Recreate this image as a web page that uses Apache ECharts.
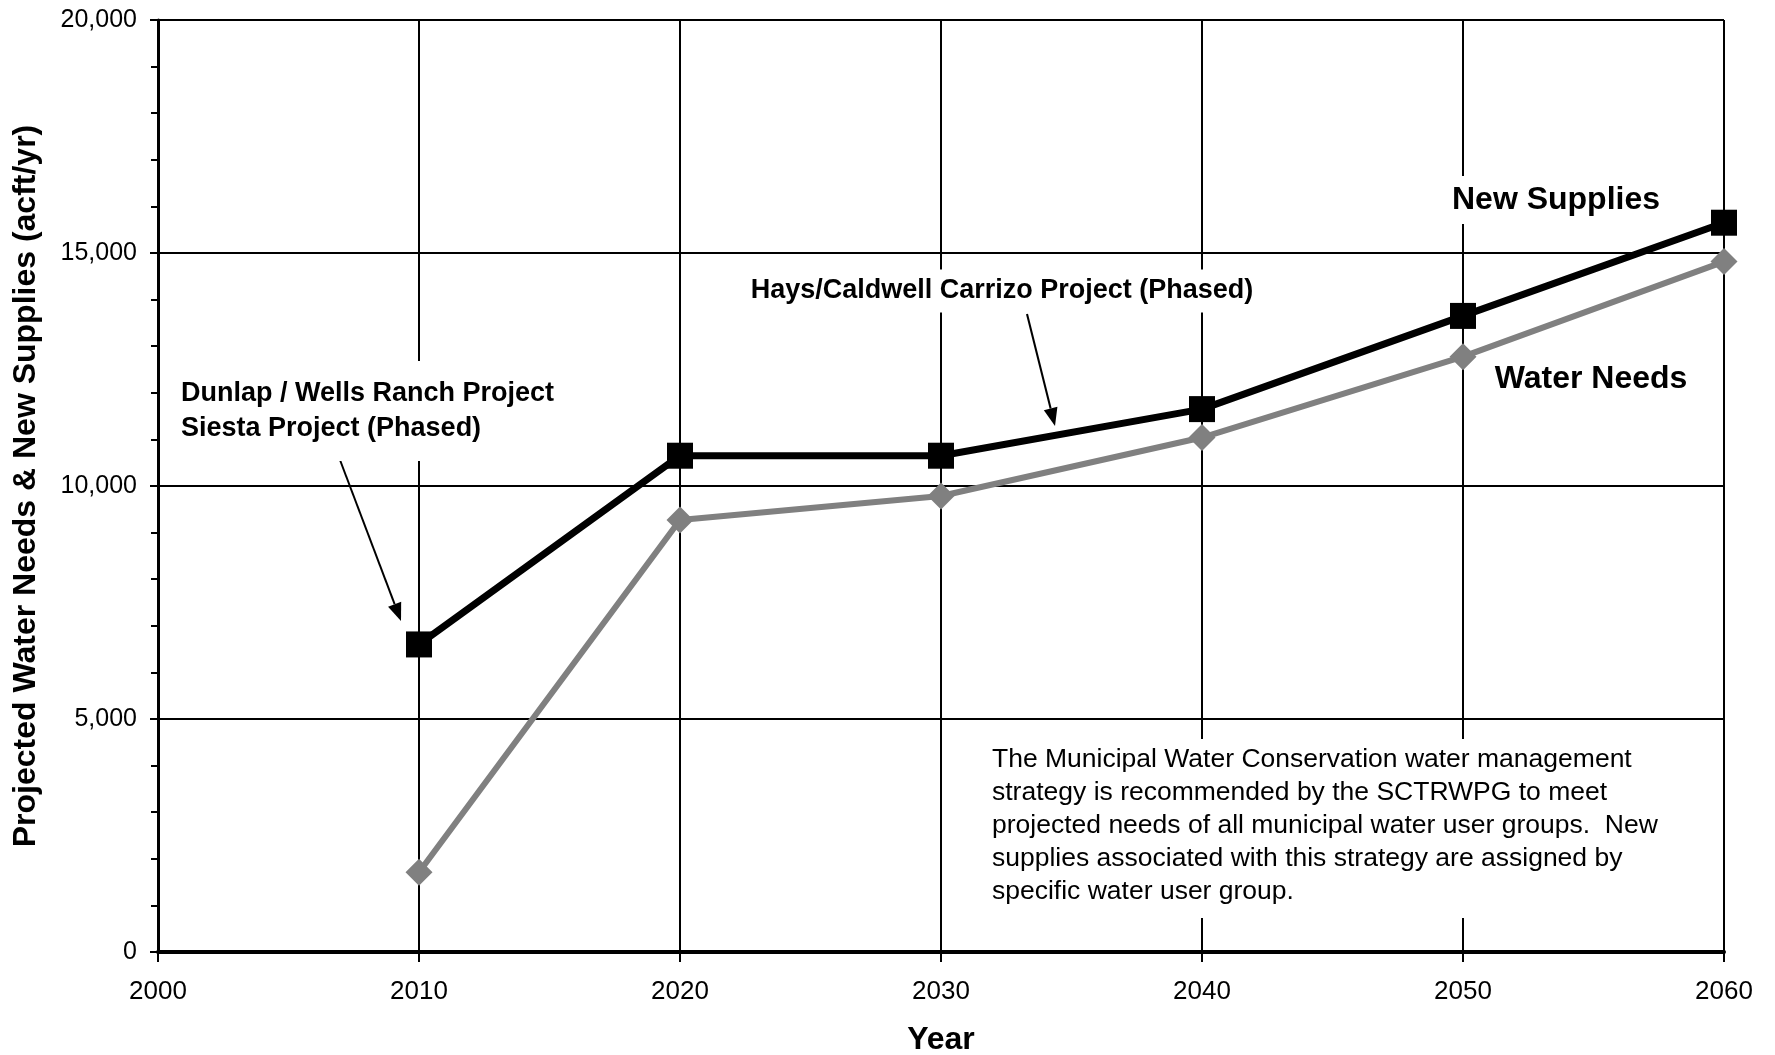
<!DOCTYPE html>
<html>
<head>
<meta charset="utf-8">
<title>Projected Water Needs & New Supplies</title>
<script src="https://cdn.jsdelivr.net/npm/echarts@6/dist/echarts.min.js"></script>
<style>
  html, body { margin: 0; padding: 0; background: #fff; }
  #chart { width: 1775px; height: 1055px; }
</style>
</head>
<body>
<div id="chart"></div>
<script>
// values (acft/yr)
const years = [2010, 2020, 2030, 2040, 2050, 2060];
const newSupplies = [6600, 10650, 10650, 11650, 13650, 15650];
const waterNeeds = [1710, 9270, 9785, 11040, 12775, 14815];

const noteLines = [
  'The Municipal Water Conservation water management',
  'strategy is recommended by the SCTRWPG to meet',
  'projected needs of all municipal water user groups.  New',
  'supplies associated with this strategy are assigned by',
  'specific water user group.'
];

const FONT = '"Liberation Sans", Arial, Helvetica, sans-serif';

// simple arrow: a thin line with a filled head at (x2, y2)
function arrow(x1, y1, x2, y2) {
  const ang = Math.atan2(y2 - y1, x2 - x1);
  const len = 18, half = 7;
  const bx = x2 - len * Math.cos(ang), by = y2 - len * Math.sin(ang);
  const px = -Math.sin(ang) * half, py = Math.cos(ang) * half;
  return [
    { type: 'line', z: 5, shape: { x1: x1, y1: y1, x2: bx, y2: by }, style: { stroke: '#000', lineWidth: 2 } },
    { type: 'polygon', z: 5, shape: { points: [[x2, y2], [bx + px, by + py], [bx - px, by - py]] }, style: { fill: '#000' } }
  ];
}

function label(text, x, y, size, align, pad, lh) {
  return {
    type: 'text', z: 6,
    style: {
      text: text, x: x, y: y,
      font: 'bold ' + size + 'px ' + FONT,
      lineHeight: lh || size,
      fill: '#000',
      align: align, verticalAlign: 'middle',
      backgroundColor: '#fff',
      padding: pad
    }
  };
}

const chart = echarts.init(document.getElementById('chart'));

const graphics = [
  // note box
  { type: 'rect', z: 5, shape: { x: 982, y: 739, width: 710, height: 179 }, style: { fill: '#fff' } },
  {
    type: 'text', z: 6,
    style: {
      text: noteLines.join('\n'), x: 992, y: 743,
      font: '26.5px ' + FONT, lineHeight: 33, fill: '#000',
      align: 'left', verticalAlign: 'top'
    }
  },
  label('Dunlap / Wells Ranch Project\nSiesta Project (Phased)', 177, 411, 27, 'left', [14, 4, 16, 4], 35),
  label('Hays/Caldwell Carrizo Project (Phased)', 1002, 291, 27, 'center', [8, 4, 8, 4]),
  label('New Supplies', 1556, 200, 32, 'center', [8, 4, 8, 4]),
  label('Water Needs', 1591, 379, 32, 'center', [4, 4, 4, 4])
].concat(arrow(340, 460, 401, 621), arrow(1027, 314, 1055, 426));

chart.setOption({
  animation: false,
  backgroundColor: '#fff',
  textStyle: { fontFamily: FONT },
  grid: { left: 158, right: 51, top: 20, bottom: 103, containLabel: false, outerBoundsMode: 'none' },
  xAxis: {
    type: 'value',
    min: 2000, max: 2060, interval: 10,
    name: 'Year',
    nameLocation: 'middle',
    nameGap: 72,
    nameTextStyle: { color: '#000', fontSize: 32, fontWeight: 'bold', fontFamily: FONT },
    axisLine: { show: true, lineStyle: { color: '#000', width: 4 } },
    axisTick: { show: true, length: 10, lineStyle: { color: '#000', width: 2 } },
    axisLabel: { color: '#000', fontSize: 26, margin: 27, fontFamily: FONT, formatter: v => String(v) },
    splitLine: { show: true, lineStyle: { color: '#000', width: 2 } }
  },
  yAxis: {
    type: 'value',
    min: 0, max: 20000, interval: 5000,
    name: 'Projected Water Needs & New Supplies (acft/yr)',
    nameLocation: 'middle',
    nameGap: 116,
    nameTextStyle: { color: '#000', fontSize: 32, fontWeight: 'bold', fontFamily: FONT },
    axisLine: { show: true, lineStyle: { color: '#000', width: 3 } },
    axisTick: { show: true, length: 8, lineStyle: { color: '#000', width: 2 } },
    minorTick: { show: true, splitNumber: 5, length: 7, lineStyle: { color: '#000', width: 2 } },
    axisLabel: {
      color: '#000', fontSize: 25, margin: 21, fontFamily: FONT,
      formatter: v => v.toLocaleString('en-US')
    },
    splitLine: { show: true, lineStyle: { color: '#000', width: 2 } }
  },
  series: [
    {
      name: 'Water Needs',
      type: 'line',
      z: 10,
      data: years.map((y, i) => [y, waterNeeds[i]]),
      symbol: 'diamond',
      symbolSize: 27,
      lineStyle: { color: '#808080', width: 6 },
      itemStyle: { color: '#808080' }
    },
    {
      name: 'New Supplies',
      type: 'line',
      z: 11,
      data: years.map((y, i) => [y, newSupplies[i]]),
      symbol: 'rect',
      symbolSize: 26,
      lineStyle: { color: '#000', width: 7 },
      itemStyle: { color: '#000' }
    }
  ],
  graphic: { elements: graphics }
});
</script>
</body>
</html>
